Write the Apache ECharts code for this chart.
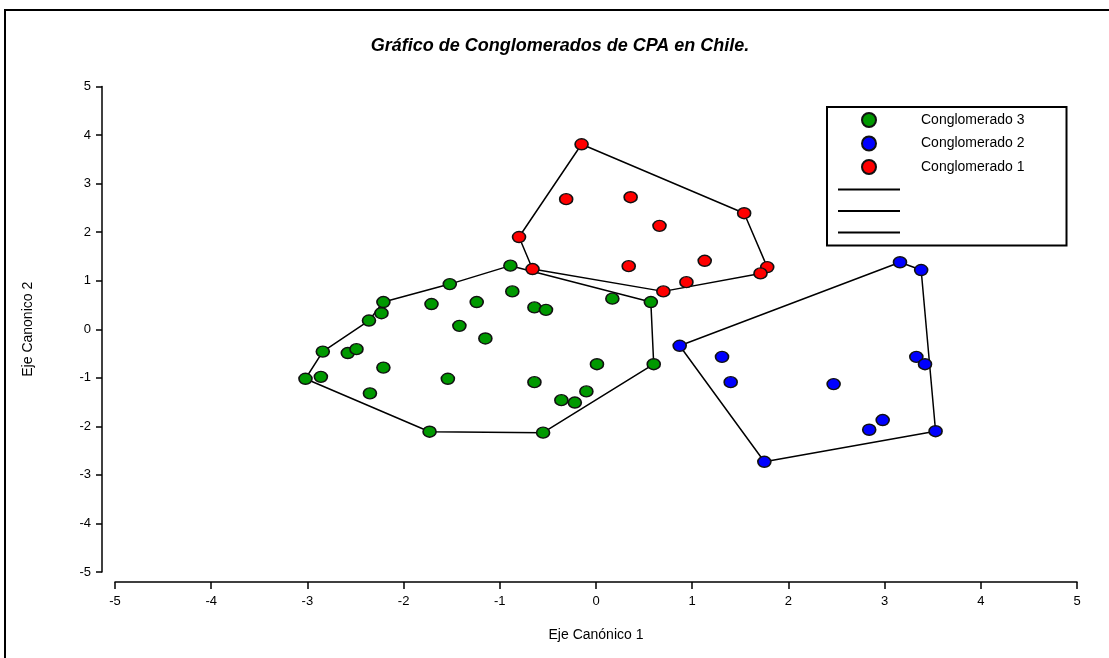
<!DOCTYPE html>
<html>
<head>
<meta charset="utf-8">
<style>
  html, body { margin: 0; padding: 0; background: #fff; }
  #chart { width: 1109px; height: 658px; }
</style>
<script src="https://cdn.jsdelivr.net/npm/echarts@6/dist/echarts.min.js"></script>
</head>
<body>
<div id="chart"></div>
<script>
// cluster points [x, y]
var cluster3 = [
  [-0.89, 1.31], [-1.52, 0.93], [-2.21, 0.56], [-2.23, 0.33], [-2.36, 0.18],
  [-2.84, -0.46], [-3.02, -1.02], [-2.86, -0.98], [-2.58, -0.49], [-2.49, -0.41],
  [-2.21, -0.79], [-2.35, -1.32], [-1.71, 0.52], [-1.24, 0.56], [-0.87, 0.78],
  [-1.42, 0.07], [-1.15, -0.19], [-1.54, -1.02], [-0.64, 0.45], [-0.52, 0.40],
  [0.17, 0.63], [0.57, 0.56], [0.60, -0.72], [0.01, -0.72], [-0.64, -1.09],
  [-0.10, -1.28], [-0.36, -1.46], [-0.22, -1.51], [-0.55, -2.13], [-1.73, -2.11]
];
var cluster2 = [
  [3.16, 1.38], [3.38, 1.22], [0.87, -0.34], [1.31, -0.57], [1.40, -1.09],
  [2.47, -1.13], [3.33, -0.57], [3.42, -0.72], [2.98, -1.87], [2.84, -2.07],
  [3.53, -2.10], [1.75, -2.73]
];
var cluster1 = [
  [-0.15, 3.81], [-0.31, 2.68], [0.36, 2.72], [0.66, 2.13], [-0.80, 1.90],
  [-0.66, 1.24], [0.34, 1.30], [1.13, 1.41], [0.94, 0.97], [0.70, 0.78],
  [1.54, 2.39], [1.78, 1.28], [1.71, 1.15]
];
// outline of each cluster, as indices into the point lists
var outline3 = [0, 1, 2, 4, 5, 6, 29, 28, 22, 21, 0];
var outline2 = [0, 1, 10, 11, 2, 0];
var outline1 = [0, 10, 11, 12, 9, 5, 4, 0];

var clusterNames = ['Conglomerado 3', 'Conglomerado 2', 'Conglomerado 1'];
var outlineNames = [' ', '  ', '   '];
var colors = ['#009900', '#0000ff', '#ff0000'];

var font = 'Arial, "Liberation Sans", sans-serif';

var clusters = [cluster3, cluster2, cluster1];
var outlines = [outline3, outline2, outline1];

var chart = echarts.init(document.getElementById('chart'));

var outlineSeries = clusters.map(function (pts, i) {
  return {
    name: outlineNames[i],
    type: 'line',
    data: outlines[i].map(function (k) { return pts[k]; }),
    symbol: 'none',
    z: 1,
    lineStyle: { color: '#000', width: 1.5 },
    itemStyle: { color: 'rgba(0,0,0,0)', borderWidth: 0, borderColor: 'rgba(0,0,0,0)' },
    silent: true,
    animation: false
  };
});

var dotSeries = clusters.map(function (pts, i) {
  return {
    name: clusterNames[i],
    type: 'scatter',
    data: pts,
    symbol: 'circle',
    symbolSize: [13, 11],
    z: 3,
    itemStyle: { color: colors[i], borderColor: '#111', borderWidth: 1.5, opacity: 1 },
    animation: false
  };
});

chart.setOption({
  backgroundColor: '#fff',
  title: {
    text: 'Gráfico de Conglomerados de CPA en Chile.',
    left: 560,
    top: 37,
    textAlign: 'center',
    padding: 0,
    textStyle: { fontSize: 18, fontWeight: 'bold', fontStyle: 'italic', color: '#000', fontFamily: font }
  },
  legend: {
    orient: 'vertical',
    left: 827,
    top: 107,
    padding: [5, 42, 6, 10],
    itemWidth: 62,
    itemHeight: 14,
    itemGap: 7.5,
    borderColor: '#000',
    borderWidth: 2,
    selectedMode: false,
    textStyle: { fontSize: 14, color: '#000', fontFamily: font, padding: [0, 0, 0, 16] },
    data: clusterNames.concat(outlineNames)
  },
  grid: { left: 115, right: 32, top: 86.5, bottom: 86 },
  xAxis: {
    type: 'value',
    min: -5, max: 5, interval: 1,
    offset: 10,
    name: 'Eje Canónico 1',
    nameLocation: 'middle',
    nameGap: 46,
    nameTextStyle: { fontSize: 14, color: '#000', fontFamily: font },
    axisLine: { onZero: false, lineStyle: { color: '#000', width: 1.5 } },
    axisTick: { inside: false, length: 7, lineStyle: { color: '#000', width: 1.5 } },
    axisLabel: { margin: 13, fontSize: 13, color: '#000', fontFamily: font },
    splitLine: { show: false }
  },
  yAxis: {
    type: 'value',
    min: -5, max: 5, interval: 1,
    offset: 13,
    name: 'Eje Canonico 2',
    nameLocation: 'middle',
    nameGap: 67,
    nameTextStyle: { fontSize: 14, color: '#000', fontFamily: font },
    axisLine: { onZero: false, lineStyle: { color: '#000', width: 1.5 } },
    axisTick: { inside: false, length: 6, lineStyle: { color: '#000', width: 1.5 } },
    axisLabel: { margin: 11, fontSize: 13, color: '#000', fontFamily: font },
    splitLine: { show: false }
  },
  graphic: [{
    type: 'polyline',
    shape: { points: [[5, 658], [5, 10], [1109, 10]] },
    style: { stroke: '#000', lineWidth: 2, fill: null },
    silent: true
  }],
  series: outlineSeries.concat(dotSeries)
});
</script>
</body>
</html>
